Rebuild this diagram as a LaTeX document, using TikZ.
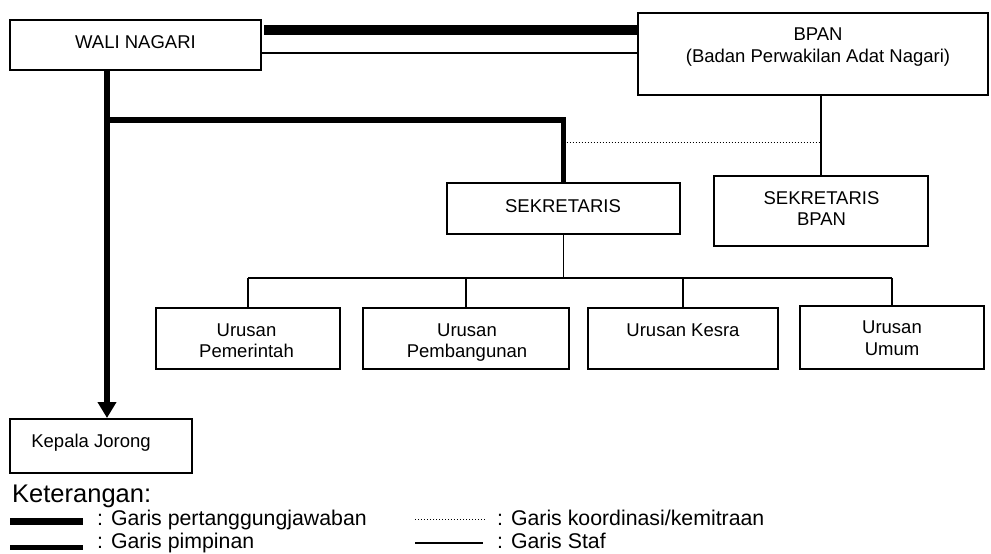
\documentclass[tikz,border=0pt]{standalone}
\usepackage{fontspec}
\setmainfont{Liberation Sans}
\usetikzlibrary{arrows.meta}
\begin{document}
\begin{tikzpicture}[x=1pt,y=-1pt,
  box/.style={draw,line width=2pt,inner sep=0pt,outer sep=0pt},
  txt/.style={font=\fontsize{18.5}{21.5}\selectfont,align=center,text height=13.25pt,text depth=0pt,inner sep=0pt},
  leg/.style={font=\fontsize{21.3}{21.3}\selectfont,anchor=west,text height=15.25pt,text depth=0pt,inner sep=0pt},
  staf/.style={line width=1.3pt},
  pimp/.style={line width=5.5pt},
  pj/.style={line width=10pt},
  koord/.style={line width=1pt,dash pattern=on 1pt off 2pt},
]
\useasboundingbox (0,0) rectangle (991,554);

% boxes
\node[box,minimum width=251pt,minimum height=50pt] (wali) at (135.5,45) {};
\node[box,minimum width=350pt,minimum height=82pt] (bpan) at (813,54) {};
\node[box,minimum width=214pt,minimum height=70pt] (sekbpan) at (821,211) {};
\node[box,minimum width=233pt,minimum height=51pt] (sek) at (563.5,208.5) {};
\node[box,minimum width=184pt,minimum height=61pt] (u1) at (248,338.5) {};
\node[box,minimum width=206pt,minimum height=61pt] (u2) at (466,338.5) {};
\node[box,minimum width=190pt,minimum height=61pt] (u3) at (683,338.5) {};
\node[box,minimum width=184pt,minimum height=63pt] (u4) at (892,337.5) {};
\node[box,minimum width=182pt,minimum height=54pt] (kj) at (101,446) {};

% texts
\node[txt] (twali) at (135.5,41.5) {WALI NAGARI};
\node[txt] (tbpan) at (818,55.5) {BPAN\\(Badan Perwakilan Adat Nagari)};
\node[txt] (tsek) at (563,206) {SEKRETARIS};
\node[txt] (tsekb) at (821.5,219.25) {SEKRETARIS\\BPAN};
\node[txt] (tu1) at (246.5,351.25) {Urusan\\Pemerintah};
\node[txt] (tu2) at (467,351.25) {Urusan\\Pembangunan};
\node[txt] (tu3) at (683,330) {Urusan Kesra};
\node[txt] (tu4) at (892,348.75) {Urusan\\Umum};
\node[txt] (tkj) at (91,441) {Kepala Jorong};

% helper coordinates
\coordinate (pjy) at (0,29.5);
\coordinate (sy) at (0,53);
\coordinate (hy) at (0,120);
\coordinate (dy) at (0,142);
\coordinate (ty) at (0,278);
\coordinate (kjx) at (107,0);

% connectors
\draw[pj,shorten <=3pt] (wali.east |- pjy) -- (bpan.west |- pjy);
\draw[staf] (wali.east |- sy) -- (bpan.west |- sy);
\draw[pimp,-{Triangle[length=16pt,width=18pt]},shorten >=1pt] (wali.south -| kjx) -- (kj.north -| kjx);
\draw[pimp,line join=miter] (kjx |- hy) -| (sek.north);
\draw[koord,shorten <=3pt] (sek.north |- dy) -- (sekbpan.north |- dy);
\draw[staf] (bpan.south -| sekbpan.north) -- (sekbpan.north);
\draw[staf] (sek.south) -- (sek.south |- ty);
\draw[staf] (u1.north |- ty) -- (u4.north |- ty);
\foreach \u in {u1,u2,u3,u4} \draw[staf] (\u.north |- ty) -- (\u.north);

% legend
\node[anchor=west,font=\fontsize{25.5}{25.5}\selectfont,text height=18.3pt,text depth=0pt,inner sep=0pt] (ket) at (12,493) {Keterangan:};
\coordinate (b1a) at (10,521); \coordinate (b1b) at (83,521);
\coordinate (b2a) at (10,547.5); \coordinate (b2b) at (83,547.5);
\coordinate (b3a) at (415,519); \coordinate (b3b) at (486,519);
\coordinate (b4a) at (415,543); \coordinate (b4b) at (483,543);
\draw[line width=7pt] (b1a) -- (b1b);
\draw[line width=5.5pt] (b2a) -- (b2b);
\draw[koord] (b3a) -- (b3b);
\draw[staf] (b4a) -- (b4b);
\node[leg] (l1) at (97,518) {: Garis pertanggungjawaban};
\node[leg] (l2) at (97,541) {: Garis pimpinan};
\node[leg] (l3) at (497,518) {: Garis koordinasi/kemitraan};
\node[leg] (l4) at (497,541) {: Garis Staf};
\end{tikzpicture}
\end{document}
